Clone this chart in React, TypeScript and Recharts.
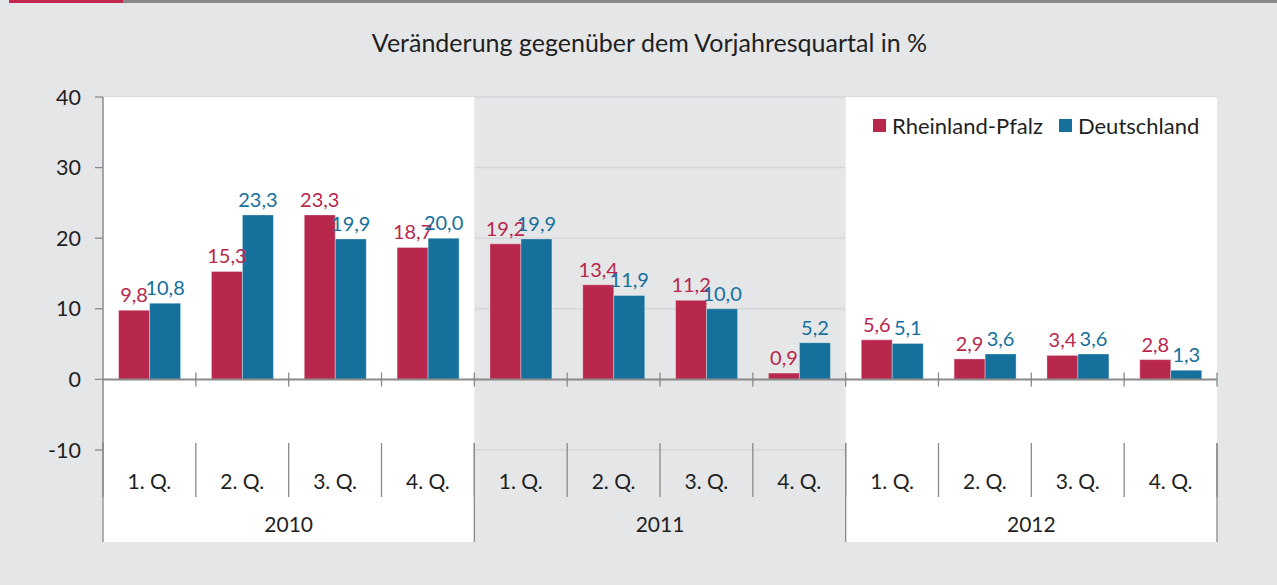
import React from "react";
import { Bar, BarChart, CartesianGrid, LabelList, Legend, ReferenceArea, ReferenceLine, XAxis, YAxis } from "recharts";

const years = ["2010", "2011", "2012"];
const quarters = ["1. Q.", "2. Q.", "3. Q.", "4. Q."];
const rheinlandPfalz = [9.8, 15.3, 23.3, 18.7, 19.2, 13.4, 11.2, 0.9, 5.6, 2.9, 3.4, 2.8];
const deutschland = [10.8, 23.3, 19.9, 20.0, 19.9, 11.9, 10.0, 5.2, 5.1, 3.6, 3.6, 1.3];
const yTicks = [-10, 0, 10, 20, 30, 40];
const shadedYear = "2011";

const RED = "#b8274c";
const BLUE = "#15709c";
const BG = "#e5e6e8";
const TEXT = "#1f1f1f";
const LINE = "#8a8a8a";
const FONT = "Lato, 'Noto Sans', sans-serif";

const W = 1277;
const H = 585;
const MARGIN = { top: 97, right: 60, bottom: 43, left: 0 };
const Y_W = 103;
const Q_H = 47;
const YEAR_H = 45;
const PLOT_W = W - MARGIN.left - MARGIN.right - Y_W;

const data = years.flatMap((year, yi) =>
  quarters.map((q, qi) => ({
    key: `${year}-${qi + 1}`,
    quarter: q,
    year,
    rp: rheinlandPfalz[yi * 4 + qi],
    de: deutschland[yi * 4 + qi],
  }))
);

const fmt = (v: any) => Number(v).toFixed(1).replace(".", ",");

function QuarterTick(props: any) {
  const { x, y, payload, index } = props;
  const bw = PLOT_W / data.length;
  const row = data.find((d) => d.key === payload.value);
  const left = x - bw / 2;
  return (
    <g>
      {row && row.year !== shadedYear && <rect x={left} y={y} width={bw} height={Q_H} fill="#ffffff" />}
      <line x1={left} x2={left} y1={y - 7} y2={y + Q_H} stroke={LINE} strokeWidth={1.3} />
      {index === data.length - 1 && (
        <line x1={left + bw} x2={left + bw} y1={y - 7} y2={y + Q_H} stroke={LINE} strokeWidth={1.3} />
      )}
      <text x={x} y={y + 39} textAnchor="middle" fill={TEXT} fontSize={21} fontFamily={FONT}>
        {row ? row.quarter : ""}
      </text>
    </g>
  );
}

function YearTick(props: any) {
  const { x, y, payload, index } = props;
  const gw = PLOT_W / years.length;
  const left = x - gw / 2;
  return (
    <g>
      {payload.value !== shadedYear && <rect x={left} y={y} width={gw} height={YEAR_H} fill="#ffffff" />}
      <line x1={left} x2={left} y1={y - Q_H - 7} y2={y + YEAR_H} stroke={LINE} strokeWidth={1.3} />
      {index === years.length - 1 && (
        <line x1={left + gw} x2={left + gw} y1={y - Q_H - 7} y2={y + YEAR_H} stroke={LINE} strokeWidth={1.3} />
      )}
      <text x={x} y={y + 35} textAnchor="middle" fill={TEXT} fontSize={21} fontFamily={FONT}>
        {payload.value}
      </text>
    </g>
  );
}

function ZeroLine(props: any) {
  const { x1, x2, y1 } = props;
  const bw = (x2 - x1) / data.length;
  return (
    <g>
      <line x1={x1} x2={x2} y1={y1} y2={y1} stroke={LINE} strokeWidth={2} />
      {data.map((d, i) => (
        <line key={d.key} x1={x1 + bw * (i + 1)} x2={x1 + bw * (i + 1)} y1={y1 - 7} y2={y1 + 7} stroke={LINE} strokeWidth={1.3} />
      ))}
    </g>
  );
}

function LegendContent() {
  const items = [
    { name: "Rheinland-Pfalz", color: RED },
    { name: "Deutschland", color: BLUE },
  ];
  return (
    <div style={{ display: "flex", alignItems: "center", fontFamily: FONT, fontSize: 22, color: TEXT, whiteSpace: "nowrap" }}>
      {items.map((it) => (
        <span key={it.name} style={{ display: "flex", alignItems: "center", marginRight: 16 }}>
          <span style={{ width: 13, height: 13, background: it.color, marginRight: 6, display: "inline-block" }} />
          {it.name}
        </span>
      ))}
    </div>
  );
}

export default function App() {
  return (
    <div style={{ position: "absolute", left: 0, top: 0, width: W, height: H, background: BG, overflow: "hidden" }}>
      <div style={{ position: "absolute", left: 9, top: 0, width: 114, height: 3, background: "#c0284f" }} />
      <div style={{ position: "absolute", left: 123, top: 0, width: W - 123, height: 3, background: "#8a8a8c" }} />
      <div
        style={{
          position: "absolute",
          top: 27,
          left: 11,
          width: W,
          textAlign: "center",
          fontFamily: FONT,
          fontSize: 25,
          color: TEXT,
        }}
      >
        Veränderung gegenüber dem Vorjahresquartal in %
      </div>
      <BarChart width={W} height={H} data={data} margin={MARGIN} barCategoryGap="16.8%" barGap={0}>
        {years
          .filter((y) => y !== shadedYear)
          .map((y) => (
            <ReferenceArea key={y} x1={`${y}-1`} x2={`${y}-4`} fill="#ffffff" fillOpacity={1} stroke="none" ifOverflow="visible" />
          ))}
        <CartesianGrid vertical={false} stroke="#c8c8c8" strokeOpacity={0.55} strokeWidth={1.5} />
        <XAxis dataKey="key" interval={0} tickLine={false} axisLine={false} tickSize={0} tickMargin={0} height={Q_H} tick={<QuarterTick />} />
        <XAxis
          xAxisId="year"
          dataKey="year"
          allowDuplicatedCategory={false}
          interval={0}
          tickLine={false}
          axisLine={false}
          tickSize={0}
          tickMargin={0}
          height={YEAR_H}
          tick={<YearTick />}
        />
        <YAxis
          width={Y_W}
          domain={[-10, 40]}
          ticks={yTicks}
          interval={0}
          axisLine={{ stroke: LINE, strokeWidth: 1.5 }}
          tickLine={{ stroke: LINE, strokeWidth: 1.3 }}
          tickSize={8}
          tickMargin={14}
          tick={{ fill: TEXT, fontSize: 21.5, fontFamily: FONT }}
        />
        <ReferenceLine y={0} shape={<ZeroLine />} />
        <Legend
          verticalAlign="middle"
          align="center"
          layout="vertical"
          wrapperStyle={{ position: "absolute", top: 112, left: 873, width: "auto" }}
          content={<LegendContent />}
        />
        <Bar dataKey="rp" name="Rheinland-Pfalz" fill={RED} stroke="#ffffff" strokeOpacity={0.35} strokeWidth={1} isAnimationActive={false}>
          <LabelList dataKey="rp" position="top" offset={8} fill={RED} fontSize={20} fontFamily={FONT} formatter={fmt} />
        </Bar>
        <Bar dataKey="de" name="Deutschland" fill={BLUE} stroke="#ffffff" strokeOpacity={0.35} strokeWidth={1} isAnimationActive={false}>
          <LabelList dataKey="de" position="top" offset={8} fill={BLUE} fontSize={20} fontFamily={FONT} formatter={fmt} />
        </Bar>
      </BarChart>
    </div>
  );
}
